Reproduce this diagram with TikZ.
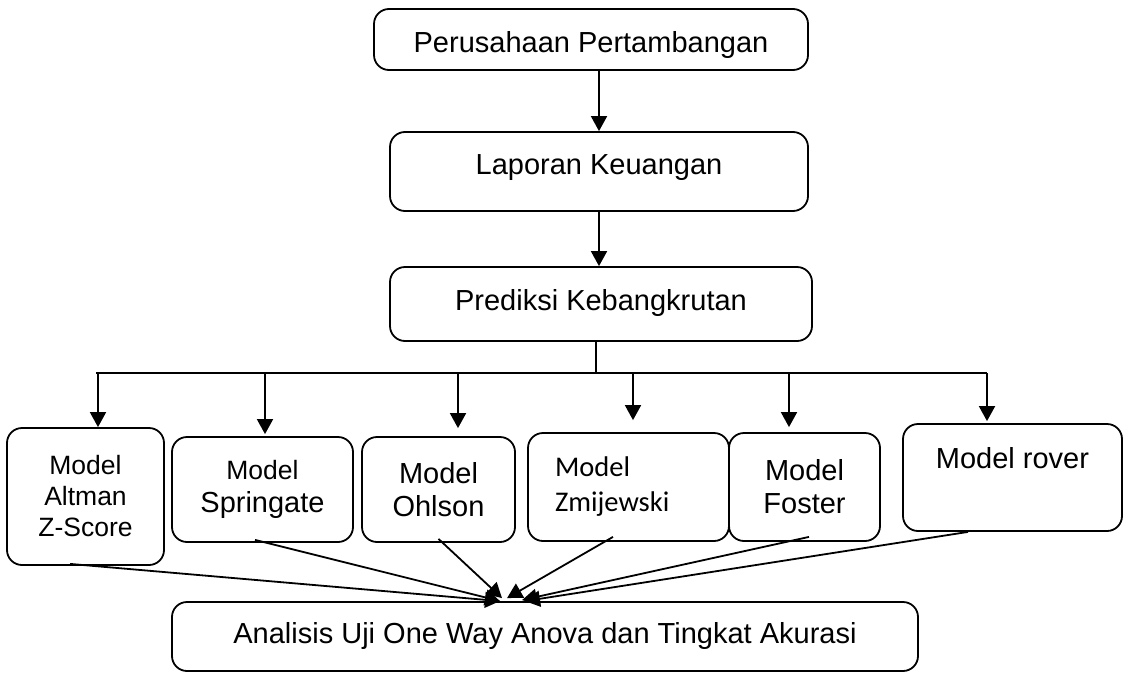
\documentclass[tikz,border=0pt]{standalone}
\usepackage{fontspec}
\setmainfont{Liberation Sans}
\newfontfamily\calibri{Carlito}
\usetikzlibrary{arrows.meta}

\begin{document}
\begin{tikzpicture}[x=1pt,y=-1pt,
    box/.style={draw,line width=1.8pt,rounded corners=15pt,align=center,inner sep=0pt,
      font=\fontsize{29}{33}\selectfont},
    link/.style={line width=1.8pt,-{Triangle[width=16pt,length=15pt]}}]
  \useasboundingbox (0,0) rectangle (1124,672);

  \node[box,minimum width=434pt,minimum height=61pt,text height=27pt,text depth=2pt] (perusahaan) at (591,39.5) {Perusahaan Pertambangan};
  \node[box,minimum width=418pt,minimum height=79pt,text height=21pt,text depth=16pt] (laporan) at (599,171.5) {Laporan Keuangan};
  \node[box,minimum width=422pt,minimum height=74pt,text height=21pt,text depth=9pt] (prediksi) at (601,304) {Prediksi Kebangkrutan};

  \node[box,minimum width=157pt,minimum height=137pt,font=\fontsize{26.5}{31}\selectfont] (altman) at (85.5,496.5) {Model\\Altman\\Z-Score};
  \node[box,minimum width=181pt,minimum height=105pt] (springate) at (262.5,489.5) {{\fontsize{26.5}{31}\selectfont Model}\\Springate};
  \node[box,minimum width=153pt,minimum height=105pt] (ohlson) at (438.5,489.5) {Model\\Ohlson};
  \node[box,text width=147pt,inner xsep=27pt,align=left,minimum height=108pt,font=\calibri\fontsize{28.5}{35}\selectfont] (zmijewski) at (628.5,487) {Model\\Zmijewski};
  \node[box,minimum width=151pt,minimum height=108pt] (foster) at (804.5,487) {Model\\Foster};
  \node[box,minimum width=219pt,minimum height=107pt,text height=21pt,text depth=40pt] (rover) at (1012.5,477.5) {Model rover};

  \node[box,minimum width=746pt,minimum height=69pt,text height=21pt,text depth=8pt] (analisis) at (545,636.5) {Analisis Uji One Way Anova dan Tingkat Akurasi};

  \coordinate (bus) at (596,373);

  \draw[link] (perusahaan.south -| laporan.north) -- (laporan.north);
  \draw[link] (laporan.south) -- (laporan.south |- prediksi.north);
  \draw[line width=1.8pt] (bus |- prediksi.south) -- (bus);
  \draw[line width=1.8pt] ([xshift=10.5pt]altman.north |- bus) -- ([xshift=-25.5pt]rover.north |- bus);

  \draw[link] ([xshift=12.5pt]altman.north |- bus) -- ([xshift=12.5pt]altman.north);
  \draw[link,shorten >=2pt] ([xshift=2.5pt]springate.north |- bus) -- ([xshift=2.5pt]springate.north);
  \draw[link,shorten >=8pt] ([xshift=19.5pt]ohlson.north |- bus) -- ([xshift=19.5pt]ohlson.north);
  \draw[link,shorten >=12pt] ([xshift=4.5pt]zmijewski.north |- bus) -- ([xshift=4.5pt]zmijewski.north);
  \draw[link,shorten >=5pt] ([xshift=-15.5pt]foster.north |- bus) -- ([xshift=-15.5pt]foster.north);
  \draw[link,shorten >=2pt] ([xshift=-25.5pt]rover.north |- bus) -- ([xshift=-25.5pt]rover.north);

  \draw[link] ([xshift=-15.5pt,yshift=2pt]altman.south) -- ([xshift=-45pt]analisis.north);
  \draw[link] ([xshift=-7.5pt,yshift=3pt]springate.south) -- ([xshift=-45pt]analisis.north);
  \draw[link] ([yshift=4pt]ohlson.south) -- ([xshift=-43pt,yshift=3pt]analisis.north);
  \draw[link] ([xshift=-15.5pt,yshift=5pt]zmijewski.south) -- ([xshift=-38pt,yshift=3pt]analisis.north);
  \draw[link] ([xshift=4.5pt,yshift=5pt]foster.south) -- ([xshift=-23pt,yshift=1pt]analisis.north);
  \draw[link] ([xshift=-44.5pt]rover.south) -- ([xshift=-20pt]analisis.north);
\end{tikzpicture}
\end{document}
